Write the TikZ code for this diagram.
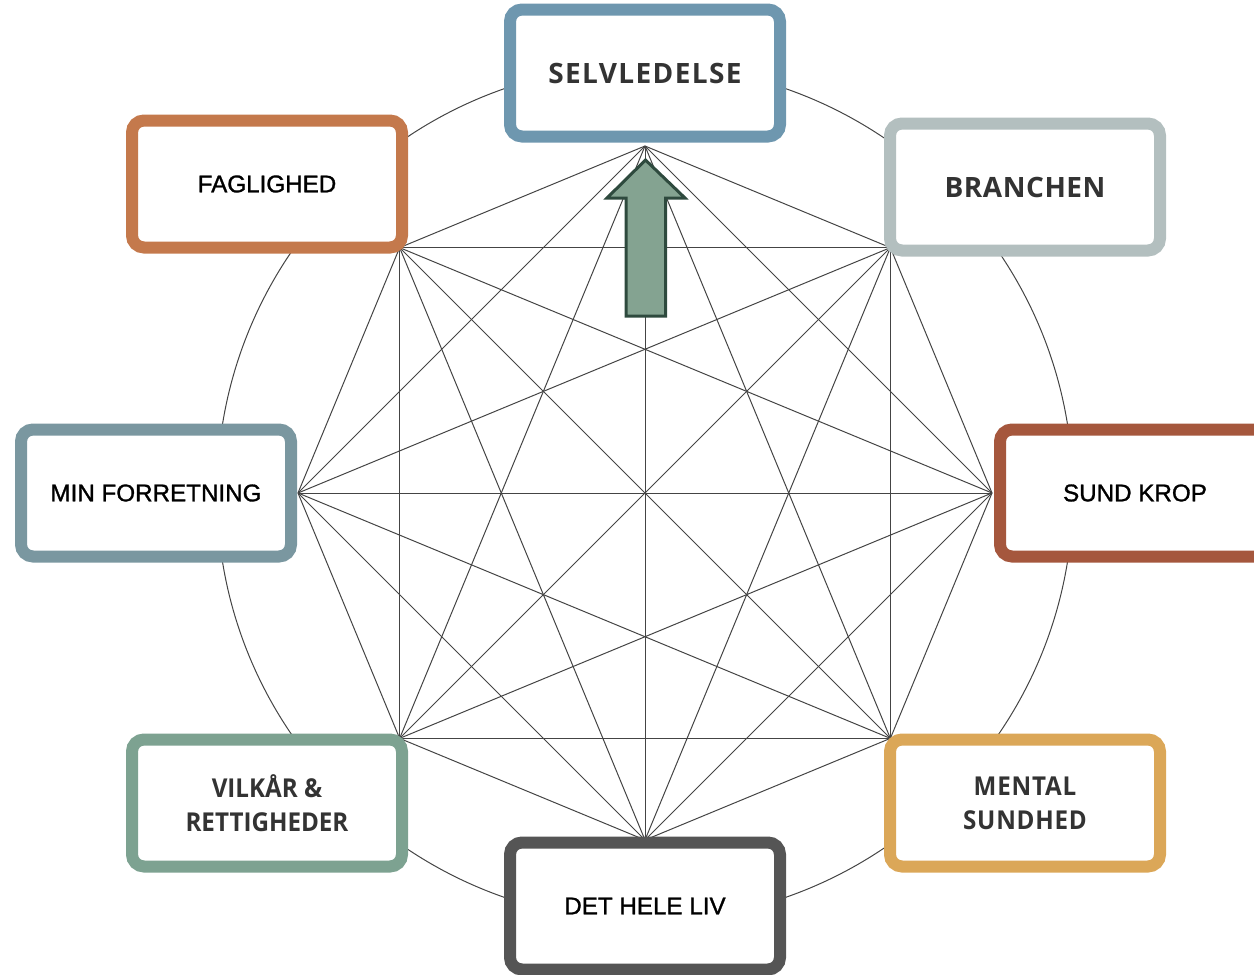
\documentclass[tikz,border=0pt]{standalone}
\usepackage{fontspec}
\setmainfont{Liberation Sans}
\newfontfamily\heavysans{Liberation Sans}[FakeBold=1.2]
\newfontfamily\opensans{Open Sans}[FakeStretch=0.93]
\newfontfamily\opentitle{Open Sans}
\definecolor{cSelv}{HTML}{6E97AF}
\definecolor{cBranch}{HTML}{B3BFBF}
\definecolor{cFag}{HTML}{C4794C}
\definecolor{cKrop}{HTML}{A5573D}
\definecolor{cForr}{HTML}{7A97A0}
\definecolor{cVilk}{HTML}{7DA291}
\definecolor{cMent}{HTML}{DBA758}
\definecolor{cLiv}{HTML}{555555}
\definecolor{chordgray}{HTML}{444444}
\definecolor{textgray}{HTML}{333333}
\definecolor{arrowfill}{HTML}{84A391}
\definecolor{arrowline}{HTML}{2E4A3E}

\begin{document}
\begin{tikzpicture}[x=0.5pt,y=-0.5pt,
	chord/.style={draw=chordgray,line width=0.5pt},
	topic/.style={draw=#1,fill=white,line width=6pt,rounded corners=6pt,
		minimum width=135pt,minimum height=63.5pt,align=center},
	plain/.style={font=\heavysans\fontsize{12.1}{15}\selectfont,text=black},
	open/.style={font=\opensans\bfseries\fontsize{13}{17}\selectfont\addfontfeature{LetterSpace=#1},text=textgray},
	title/.style={font=\opentitle\bfseries\fontsize{14}{17}\selectfont\addfontfeature{LetterSpace=#1},text=textgray}]
	\clip (0,0) rectangle (1254,975);
	\coordinate (c) at (645,493);
	% corners of the octagon
	\foreach \i in {0,...,7}
		\coordinate (v\i) at ({645+347*cos(90-45*\i)},{493-347*sin(90-45*\i)});
	\draw[chord] (c) circle[radius=214pt];
	% every corner joined to every other
	\foreach \i in {0,...,6}{
		\pgfmathtruncatemacro\nxt{\i+1}
		\foreach \j in {\nxt,...,7}
			\draw[chord] (v\i) -- (v\j);
	}
	\draw[fill=arrowfill,draw=arrowline,line width=1.5pt,line join=miter]
		(645.5,160) -- (685,198) -- (665.5,198) -- (665.5,316) -- (626,316)
		-- (626,198) -- (607,198) -- cycle;
	\node[topic=cSelv,title=5] (selv) at (645,73) {SELVLEDELSE};
	\node[topic=cBranch,title=2] (branch) at (1025,187) {BRANCHEN};
	\node[topic=cFag,plain] (fag) at (267,184) {FAGLIGHED};
	\node[topic=cKrop,plain] (krop) at (1135,493) {SUND KROP};
	\node[topic=cForr,plain] (forr) at (156,493) {MIN FORRETNING};
	\node[topic=cVilk,open=0] (vilk) at (267,803) {VILKÅR \&\\RETTIGHEDER};
	\node[topic=cMent,open=3] (ment) at (1025,803) {MENTAL\\SUNDHED};
	\node[topic=cLiv,plain] (liv) at (645,906) {DET HELE LIV};
\end{tikzpicture}
\end{document}
